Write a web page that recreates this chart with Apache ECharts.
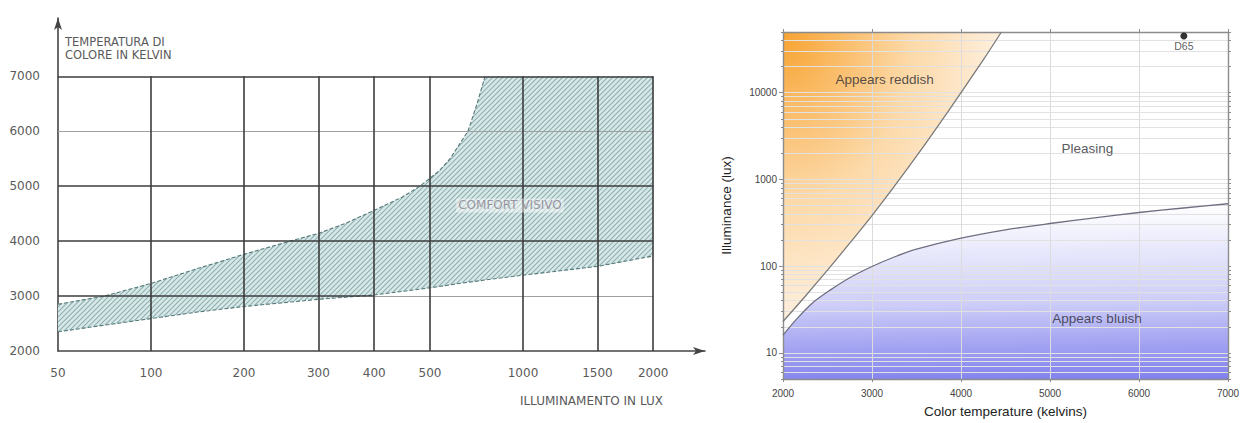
<!DOCTYPE html>
<html><head><meta charset="utf-8">
<script src="https://cdn.jsdelivr.net/npm/echarts@6/dist/echarts.min.js"></script>
<style>html,body{margin:0;padding:0;background:#fff}#c{width:1245px;height:423px}</style>
</head><body><div id="c"></div>
<script>
// ---------- Left chart (Kruithof, Italian drawing) ----------
const leftXTickLux = [50, 100, 200, 300, 400, 500, 1000, 1500, 2000];
const leftXTickPos = [0, 5, 10, 14, 17, 20, 25, 29, 32]; // drawing's own (irregular) lux scale
const leftYTicks = [2000, 3000, 4000, 5000, 6000, 7000];
const comfortUpperLux = [50, 75, 100, 150, 200, 262, 300, 350, 400, 450, 482, 550, 608, 704, 753, 796];
const comfortUpperK   = [2850, 3000, 3230, 3500, 3760, 4000, 4140, 4330, 4560, 4800, 5000, 5280, 5500, 6000, 6500, 7000];
const comfortLowerLux = [50, 100, 150, 200, 300, 400, 500, 700, 1000, 1500, 2000];
const comfortLowerK   = [2350, 2590, 2710, 2810, 2940, 3020, 3150, 3250, 3380, 3540, 3730];
const leftLabel = ['COMFORT VISIVO', 930, 4650];

// ---------- Right chart (Kruithof, English) ----------
const rightXTicks = [2000, 3000, 4000, 5000, 6000, 7000];
const rightYTicks = [10, 100, 1000, 10000];
const reddishK   = [2000, 2250, 2500, 2750, 3000, 3250, 3500, 3750, 4000, 4250, 4454];
const reddishLux = [23, 45, 90, 184, 383, 830, 1850, 4250, 10000, 23800, 50000];
const bluishK    = [2000, 2150, 2337, 2525, 2750, 3000, 3250, 3500, 4000, 4500, 5000, 5500, 6000, 6500, 7000];
const bluishLux  = [16, 24.3, 38, 52.5, 73.5, 99, 127.5, 156.7, 210, 262, 310, 360, 415, 468, 524];
const d65 = ['D65', 6504, 45000];
const rightLabels = [['Appears reddish', 3143, 14300], ['Pleasing', 5420, 2290], ['Appears bluish', 5528, 25]];

// ---------- helpers ----------
function luxToPos(l) {
  for (let i = 0; i < leftXTickLux.length - 1; i++) {
    const a = leftXTickLux[i], b = leftXTickLux[i + 1];
    if (l >= a && l <= b) return leftXTickPos[i] + (l - a) / (b - a) * (leftXTickPos[i + 1] - leftXTickPos[i]);
  }
  return l < leftXTickLux[0] ? leftXTickPos[0] : leftXTickPos[leftXTickPos.length - 1];
}
const yMinorTicks = [];
[1, 10, 100, 1000, 10000].forEach(d => { for (let m = 1; m <= 9; m++) { const v = d * m; if (v >= 5 && v <= 50000) yMinorTicks.push(v); } });
yMinorTicks.push(50000);

// hatch pattern
const pc = document.createElement('canvas');
pc.width = 5; pc.height = 5;
const g = pc.getContext('2d');
g.fillStyle = '#d8e7e7'; g.fillRect(0, 0, 5, 5);
g.strokeStyle = '#8fb0b0'; g.lineWidth = 1.1;
g.beginPath(); g.moveTo(-1, 6); g.lineTo(6, -1); g.moveTo(-1, 1); g.lineTo(1, -1); g.moveTo(4, 6); g.lineTo(6, 4); g.stroke();
const hatch = { image: pc, repeat: 'repeat', imageWidth: 5, imageHeight: 5 };

// left grid geometry
const LG = { left: 58, top: 18, width: 647, height: 333 };
const xPosMax = 647 / 18.6;
const yLeftMax = 2000 + 333 / 54.94 * 1000;
const lastPos = leftXTickPos[leftXTickPos.length - 1];

const dark = { color: '#3d3d3d', width: 1.6, type: 'solid' };
const light = { color: '#a0a0a0', width: 1, type: 'solid' };
const gridLinesLeft = [];
leftYTicks.forEach(k => {
  if (k === 2000) return;
  if (k === 3000) {
    gridLinesLeft.push([{ coord: [0, k], lineStyle: dark }, { coord: [luxToPos(400), k] }]);
    gridLinesLeft.push([{ coord: [luxToPos(400), k], lineStyle: light }, { coord: [lastPos, k] }]);
  } else {
    gridLinesLeft.push([{ coord: [0, k], lineStyle: k === 6000 ? light : dark }, { coord: [lastPos, k] }]);
  }
});
leftXTickPos.forEach(p => {
  if (p === 0) return;
  gridLinesLeft.push([{ coord: [p, 2000], lineStyle: dark }, { coord: [p, 7000] }]);
});

const leftFont = 'DejaVu Sans';
const rightFont = 'Liberation Sans';

const chart = echarts.init(document.getElementById('c'), null, { renderer: 'svg' });
chart.setOption({
  animation: false,
  backgroundColor: '#fff',
  grid: [
    { left: LG.left, top: LG.top, width: LG.width, height: LG.height },
    { left: 783, right: 17, top: 32, bottom: 41 }
  ],
  xAxis: [
    { type: 'value', gridIndex: 0, min: 0, max: xPosMax,
      name: 'ILLUMINAMENTO IN LUX', nameLocation: 'end', nameGap: -42,
      nameTextStyle: { align: 'right', verticalAlign: 'top', padding: [44, 0, 0, 0], fontFamily: leftFont, fontSize: 12, color: '#5a5a5a' },
      axisLine: { show: true, symbol: ['none', 'arrow'], symbolSize: [6, 12], lineStyle: { color: '#444', width: 1.6 } },
      axisTick: { show: false }, splitLine: { show: false },
      axisLabel: { customValues: leftXTickPos, margin: 16, fontFamily: leftFont, fontSize: 12, color: '#5a5a5a',
        formatter: v => String(leftXTickLux[leftXTickPos.indexOf(v)]) } },
    { type: 'value', gridIndex: 1, min: rightXTicks[0], max: rightXTicks[rightXTicks.length - 1], interval: 1000, z: 3,
      name: 'Color temperature (kelvins)', nameLocation: 'middle', nameGap: 25,
      nameTextStyle: { fontFamily: rightFont, fontSize: 13.5, color: '#222' },
      axisLine: { lineStyle: { color: '#8c8c8c', width: 1.4 } },
      axisTick: { show: true, length: 3, lineStyle: { color: '#8c8c8c' } },
      splitLine: { show: true, lineStyle: { color: '#dcdcdc', width: 1 } },
      axisLabel: { margin: 9, fontFamily: rightFont, fontSize: 10, color: '#444', formatter: v => String(v) } },
    { type: 'value', gridIndex: 1, position: 'top', min: rightXTicks[0], max: rightXTicks[rightXTicks.length - 1], interval: 1000, z: 3,
      axisLine: { lineStyle: { color: '#8c8c8c', width: 1.4 } },
      axisTick: { show: true, length: 3, lineStyle: { color: '#8c8c8c' } },
      splitLine: { show: false }, axisLabel: { show: false } }
  ],
  yAxis: [
    { type: 'value', gridIndex: 0, min: 2000, max: yLeftMax,
      name: 'TEMPERATURA DI\nCOLORE IN KELVIN', nameLocation: 'end', nameGap: -17,
      nameTextStyle: { align: 'left', verticalAlign: 'top', padding: [0, 0, 0, 7], lineHeight: 13.5, fontFamily: leftFont, fontSize: 11.5, color: '#5a5a5a' },
      axisLine: { show: true, symbol: ['none', 'arrow'], symbolSize: [6, 12], lineStyle: { color: '#444', width: 1.6 } },
      axisTick: { show: false }, splitLine: { show: false },
      axisLabel: { customValues: leftYTicks, margin: 18, fontFamily: leftFont, fontSize: 12, color: '#5a5a5a', formatter: v => String(v) } },
    { type: 'log', logBase: 10, gridIndex: 1, position: 'left', min: 5, max: 50000, z: 3,
      name: 'Illuminance (lux)', nameLocation: 'middle', nameGap: 50,
      nameTextStyle: { fontFamily: rightFont, fontSize: 13.5, color: '#222' },
      axisLine: { show: true, lineStyle: { color: '#8c8c8c', width: 1.4 } },
      axisTick: { show: true, length: 4, customValues: rightYTicks, lineStyle: { color: '#8c8c8c' } },
      splitLine: { show: false },
      axisLabel: { customValues: rightYTicks, margin: 6, fontFamily: rightFont, fontSize: 10, color: '#444', formatter: v => String(Math.round(v)) } },
    { type: 'log', logBase: 10, gridIndex: 1, position: 'left', min: 5, max: 50000, z: 3,
      axisLine: { show: false },
      axisTick: { show: true, length: 2, customValues: yMinorTicks, lineStyle: { color: '#8c8c8c' } },
      splitLine: { show: true, lineStyle: { color: '#e2e2e2', width: 1 } },
      axisLabel: { show: false } },
    { type: 'log', logBase: 10, gridIndex: 1, position: 'right', min: 5, max: 50000, z: 3,
      axisLine: { show: true, lineStyle: { color: '#8c8c8c', width: 1.4 } },
      axisTick: { show: true, length: 3, customValues: yMinorTicks, lineStyle: { color: '#8c8c8c' } },
      splitLine: { show: false }, axisLabel: { show: false } }
  ],
  series: [
    // hatched comfort band
    { type: 'custom', xAxisIndex: 0, yAxisIndex: 0, z: 1, silent: true,
      data: [[0, 2000]],
      renderItem: function (params, api) {
        const pts = [];
        for (let i = 0; i < comfortUpperLux.length; i++) pts.push(api.coord([luxToPos(comfortUpperLux[i]), comfortUpperK[i]]));
        pts.push(api.coord([lastPos, 7000]));
        for (let i = comfortLowerLux.length - 1; i >= 0; i--) pts.push(api.coord([luxToPos(comfortLowerLux[i]), comfortLowerK[i]]));
        return { type: 'polygon', shape: { points: pts }, style: { fill: hatch, stroke: null } };
      } },
    { type: 'line', xAxisIndex: 0, yAxisIndex: 0, z: 3, silent: true, symbol: 'none',
      data: comfortUpperLux.map((l, i) => [luxToPos(l), comfortUpperK[i]]),
      lineStyle: { color: '#557a7a', width: 1.1, type: [4, 2] },
      markLine: { symbol: ['none', 'none'], silent: true, label: { show: false }, data: gridLinesLeft } },
    { type: 'line', xAxisIndex: 0, yAxisIndex: 0, z: 3, silent: true, symbol: 'none',
      data: comfortLowerLux.map((l, i) => [luxToPos(l), comfortLowerK[i]]),
      lineStyle: { color: '#557a7a', width: 1.1, type: [4, 2] } },
    { type: 'scatter', xAxisIndex: 0, yAxisIndex: 0, z: 5, silent: true, symbolSize: 1,
      itemStyle: { color: 'rgba(0,0,0,0)' },
      data: [{ name: leftLabel[0], value: [luxToPos(leftLabel[1]), leftLabel[2]] }],
      label: { show: true, position: 'inside', formatter: '{b}', fontFamily: leftFont, fontSize: 12, color: '#86808c',
        backgroundColor: 'rgba(255,255,255,0.55)', padding: [1, 2] } },
    // right chart areas
    { type: 'line', xAxisIndex: 1, yAxisIndex: 1, z: 1, silent: true, symbol: 'none', smooth: 0.3,
      data: reddishK.map((k, i) => [k, reddishLux[i]]),
      lineStyle: { width: 0, opacity: 0 },
      areaStyle: { origin: 'end', opacity: 1, color: { type: 'radial', x: 0, y: 0, r: 1.3,
        colorStops: [{ offset: 0, color: '#f7a331' }, { offset: 0.2, color: '#fabb66' }, { offset: 0.45, color: '#fcd9a8' },
                     { offset: 0.75, color: '#feeedb' }, { offset: 1, color: '#ffffff' }] } } },
    { type: 'line', xAxisIndex: 1, yAxisIndex: 1, z: 1, silent: true, symbol: 'none', smooth: 0.3,
      data: bluishK.map((k, i) => [k, bluishLux[i]]),
      lineStyle: { width: 0, opacity: 0 },
      areaStyle: { origin: 'start', opacity: 1, color: { type: 'linear', x: 1, y: 0, x2: 1.04, y2: 1,
        colorStops: [{ offset: 0, color: '#ffffff' }, { offset: 0.55, color: '#cdcdf8' }, { offset: 0.75, color: '#a9a9f3' },
                     { offset: 1, color: '#8080ee' }] } } },
    { type: 'line', xAxisIndex: 1, yAxisIndex: 1, z: 4, silent: true, symbol: 'none', smooth: 0.3,
      data: reddishK.map((k, i) => [k, reddishLux[i]]),
      lineStyle: { color: '#7a7a7a', width: 1.3 } },
    { type: 'line', xAxisIndex: 1, yAxisIndex: 1, z: 4, silent: true, symbol: 'none', smooth: 0.3,
      data: bluishK.map((k, i) => [k, bluishLux[i]]),
      lineStyle: { color: '#6e6e80', width: 1.3 } },
    { type: 'scatter', xAxisIndex: 1, yAxisIndex: 1, z: 5, silent: true, symbolSize: 1,
      itemStyle: { color: 'rgba(0,0,0,0)' },
      data: rightLabels.map(d => ({ name: d[0], value: [d[1], d[2]] })),
      label: { show: true, position: 'inside', formatter: '{b}', fontFamily: rightFont, fontSize: 13.5, color: '#2b2b33' } },
    { type: 'scatter', xAxisIndex: 1, yAxisIndex: 1, z: 6, silent: true, symbolSize: 7,
      itemStyle: { color: '#000' },
      data: [{ name: d65[0], value: [d65[1], d65[2]] }],
      label: { show: true, position: 'bottom', distance: 1, formatter: '{b}', fontFamily: rightFont, fontSize: 10.5, color: '#333' } }
  ]
});
</script>
</body></html>
